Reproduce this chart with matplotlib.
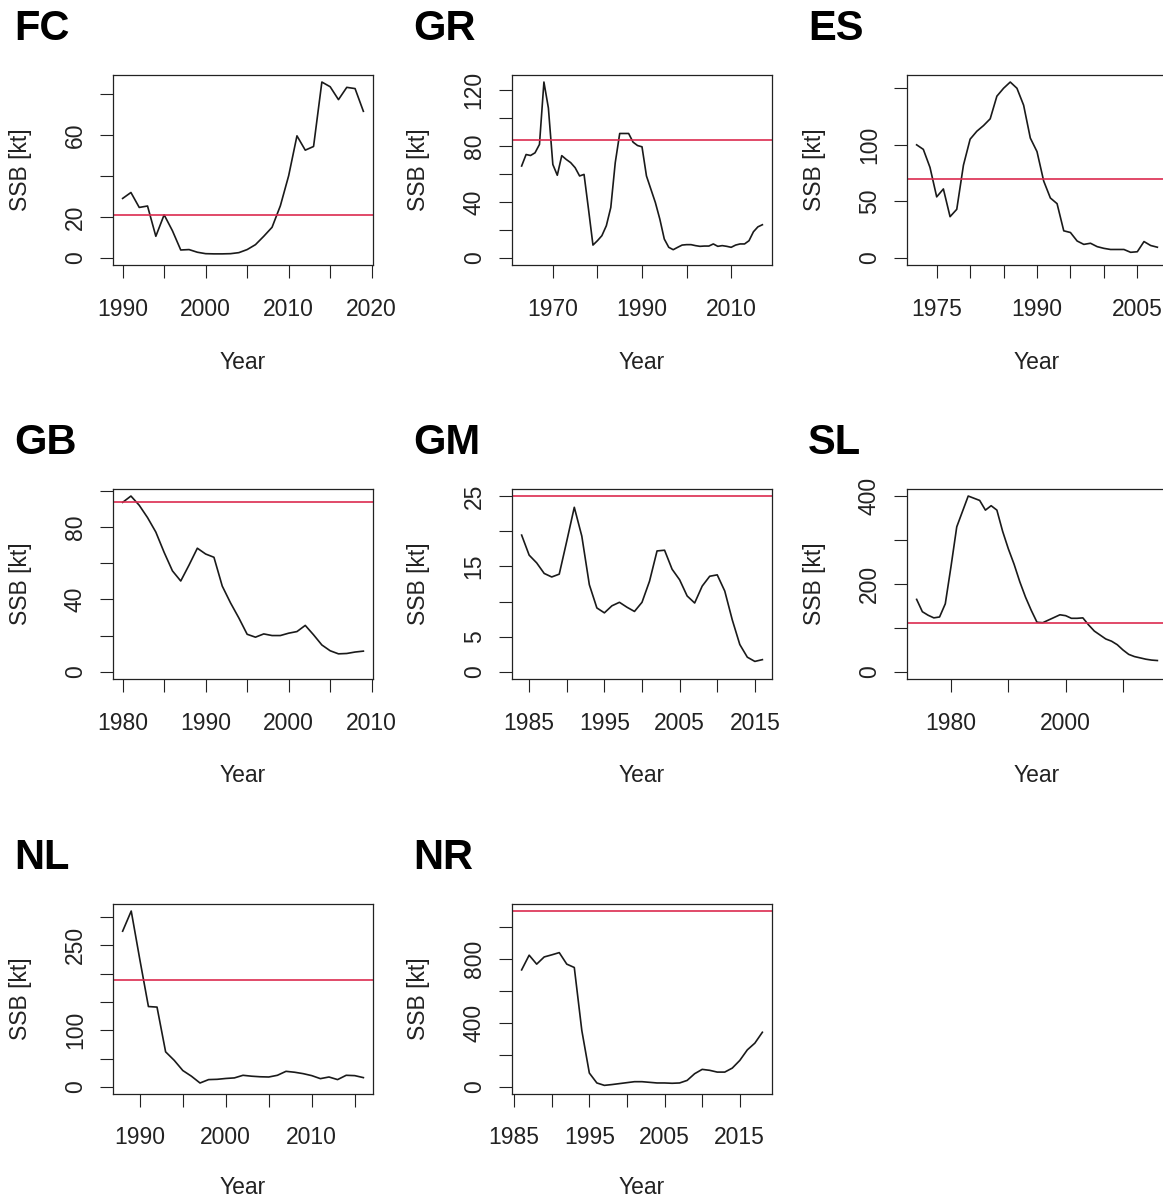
import numpy as np
import matplotlib
matplotlib.use("Agg")
import matplotlib.pyplot as plt

plt.rcParams['font.family'] = ['Liberation Sans', 'DejaVu Sans']

# Spawning stock biomass per stock
fc_years = np.arange(1990, 2020)
fc_ssb = [29.1, 32, 24.7, 25.4, 10.6, 21.1, 13.3, 3.9, 4.1, 2.8,
          2.1, 2.0, 2.0, 2.1, 2.6, 4.1, 6.5, 10.6, 15, 25.5,
          40.2, 59.7, 52.7, 54.5, 86, 83.7, 77.4, 83.4, 82.8, 71.7]
fc_ref = 21

gr_years = np.arange(1963, 2018)
gr_ssb = [65.6, 73.8, 73.1, 75, 81, 125.5, 107, 66.7, 59, 73,
          70.3, 68, 64.4, 58.5, 59.6, 34.8, 9.2, 12.3, 15.9, 23,
          36, 68, 88.8, 88.8, 88.8, 82.6, 80.2, 79.3, 58.5, 49,
          39.5, 27.7, 13.5, 7.6, 5.9, 7.6, 9.2, 9.5, 9.5, 8.8,
          8.3, 8.5, 8.5, 10, 8.3, 8.8, 8.3, 7.6, 9.2, 10,
          10, 12.3, 18.7, 22.2, 23.7]
gr_ref = 84

es_years = np.arange(1972, 2009)
es_ssb = [100, 96, 80, 54, 61, 36.5, 43, 82, 105, 112,
          117, 123, 143, 150, 155.5, 150, 135, 106, 94, 68,
          53, 48, 24, 22.5, 15, 12, 13, 10, 8.5, 7.5,
          7.5, 7.5, 5, 5.5, 14.5, 11, 9.5]
es_ref = 70

gb_years = np.arange(1980, 2010)
gb_ssb = [93.6, 97.1, 92, 85.2, 77.2, 66, 55.8, 50.2, 59, 68.3,
          65.1, 63.3, 47.4, 38.1, 29.8, 20.8, 19.2, 21, 20.1, 20.1,
          21.4, 22.3, 25.7, 20.5, 14.9, 11.7, 10, 10.2, 11, 11.5]
gb_ref = 93.6

gm_years = np.arange(1984, 2017)
gm_ssb = [19.45, 16.6, 15.5, 14.0, 13.5, 13.9, 18.6, 23.4, 19.3, 12.4,
          9.1, 8.4, 9.4, 9.9, 9.2, 8.6, 9.9, 12.9, 17.2, 17.3,
          14.6, 13.1, 10.8, 9.8, 12.2, 13.6, 13.8, 11.5, 7.4, 3.9,
          2.1, 1.5, 1.75]
gm_ref = 25

sl_years = np.arange(1974, 2017)
sl_ssb = [165, 137, 129, 123, 125, 155, 240, 330, 365, 400,
          395, 390, 368, 378, 368, 320, 280, 245, 205, 170,
          140, 113, 112, 118, 124, 130, 128, 122, 122, 123,
          107, 93, 84, 75, 70, 62, 50, 40, 35, 32,
          29, 27, 26]
sl_ref = 111

nl_years = np.arange(1988, 2017)
nl_ssb = [275, 310.6, 225, 142, 141, 62, 47, 29, 19, 7,
          13, 13.5, 15, 16, 20.6, 19, 18, 17.6, 20.6, 27.6,
          26, 23.5, 20, 14.7, 17.6, 13, 20.6, 20, 16.5]
nl_ref = 188

nr_years = np.arange(1986, 2019)
nr_ssb = [732, 824, 768, 813, 826, 840, 768, 747, 353, 87,
          25, 10, 15, 21, 27, 33, 33, 29, 25, 25,
          23, 25, 41, 83, 110, 104, 93, 93, 118, 166,
          232, 274, 342]
nr_ref = 1100

panels = [
    ("FC", fc_years, fc_ssb, fc_ref, np.arange(0, 81, 20), [0, 20, 60],
     np.arange(1990, 2021, 5), [1990, 2000, 2010, 2020]),
    ("GR", gr_years, gr_ssb, gr_ref, np.arange(0, 121, 20), [0, 40, 80, 120],
     np.arange(1970, 2011, 10), [1970, 1990, 2010]),
    ("ES", es_years, es_ssb, es_ref, np.arange(0, 151, 50), [0, 50, 100],
     np.arange(1975, 2006, 5), [1975, 1990, 2005]),
    ("GB", gb_years, gb_ssb, gb_ref, np.arange(0, 101, 20), [0, 40, 80],
     np.arange(1980, 2011, 5), [1980, 1990, 2000, 2010]),
    ("GM", gm_years, gm_ssb, gm_ref, np.arange(0, 26, 5), [0, 5, 15, 25],
     np.arange(1985, 2016, 5), [1985, 1995, 2005, 2015]),
    ("SL", sl_years, sl_ssb, sl_ref, np.arange(0, 401, 100), [0, 200, 400],
     np.arange(1980, 2011, 10), [1980, 2000]),
    ("NL", nl_years, nl_ssb, nl_ref, np.arange(0, 301, 50), [0, 100, 250],
     np.arange(1990, 2016, 5), [1990, 2000, 2010]),
    ("NR", nr_years, nr_ssb, nr_ref, np.arange(0, 1001, 200), [0, 400, 800],
     np.arange(1985, 2016, 5), [1985, 1995, 2005, 2015]),
]

W, H = 1163, 1200
fig = plt.figure(figsize=(W / 100, H / 100), dpi=100)

col_left = [113, 512, 907]
row_top = [75, 489, 904]
year_gap = [97, 97, 94]   # last row sits close to the bottom edge
box_w, box_h = 260, 190
fs = 16.5

for i, (name, years, ssb, ref, yt, ylab, xt, xlab) in enumerate(panels):
    r, c = divmod(i, 3)
    x0, y0 = col_left[c], row_top[r]
    ax = fig.add_axes([x0 / W, 1 - (y0 + box_h) / H, box_w / W, box_h / H])
    ax.plot(years, ssb, color="#1a1a1a", lw=1.2)
    ax.axhline(ref, color="#DB2B4F", lw=1.2)

    top = max(max(ssb), ref)
    ax.set_ylim(-0.04 * top, 1.04 * top)
    span = years[-1] - years[0]
    ax.set_xlim(years[0] - 0.04 * span, years[-1] + 0.04 * span)

    ax.set_yticks(yt)
    ax.set_yticklabels([str(v) if v in ylab else "" for v in yt],
                       rotation=90, va="center")
    ax.set_xticks(xt)
    ax.set_xticklabels([str(v) if v in xlab else "" for v in xt])
    ax.tick_params(axis="both", direction="out", length=9.4, width=0.8,
                   labelsize=fs, color="#222222", labelcolor="#222222")
    ax.tick_params(axis="x", pad=14)
    ax.tick_params(axis="y", pad=9.5)
    for s in ax.spines.values():
        s.set_linewidth(0.9)
        s.set_color("#222222")

    fig.text((x0 + box_w / 2) / W, 1 - (y0 + box_h + year_gap[r]) / H, "Year",
             ha="center", va="center", fontsize=fs, color="#222222")
    fig.text((x0 - 93) / W, 1 - (y0 + box_h / 2) / H, "SSB [kt]",
             ha="center", va="center", rotation=90, fontsize=fs, color="#222222")
    fig.text((x0 - 99) / W, 1 - (y0 - 35) / H, name,
             ha="left", va="baseline", fontsize=30, fontweight="bold")

fig.savefig("out.png", dpi=100)
